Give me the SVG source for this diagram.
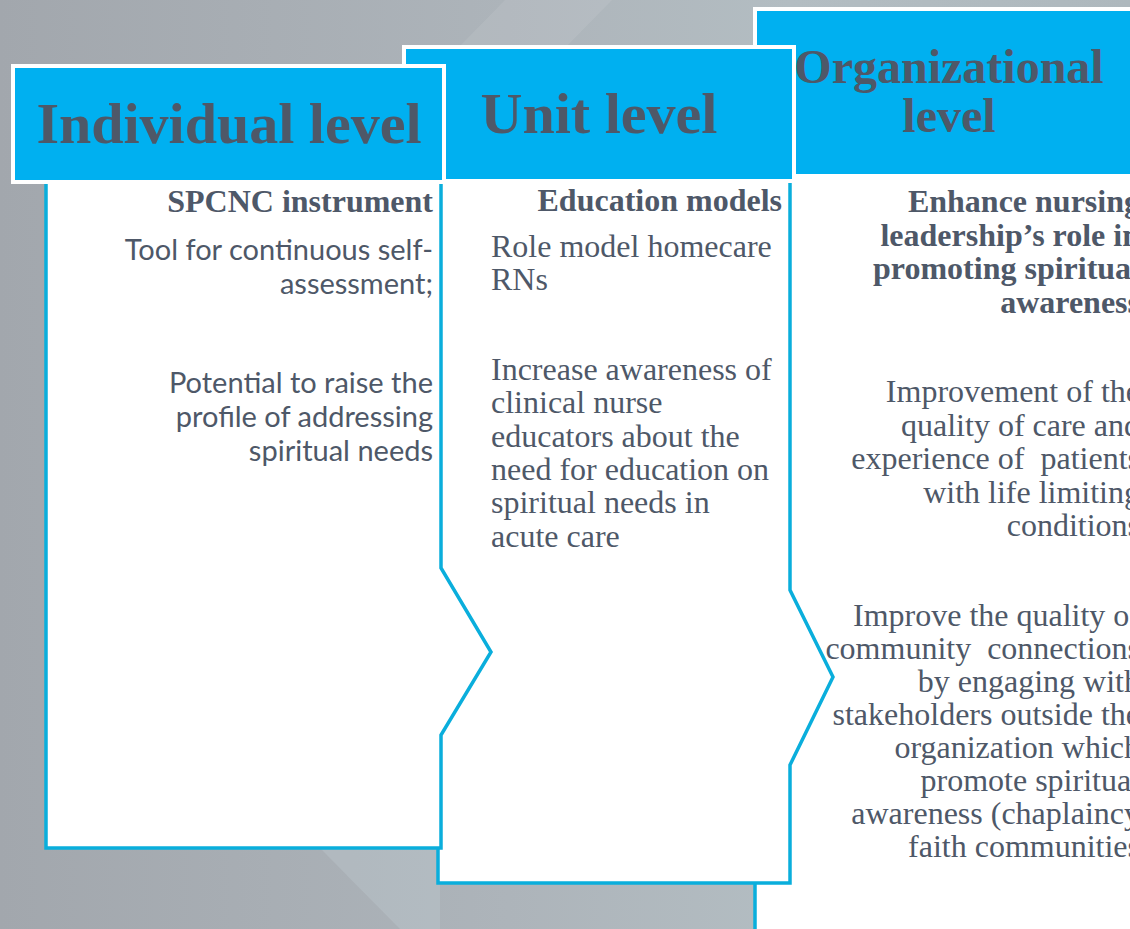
<svg xmlns="http://www.w3.org/2000/svg" width="1130" height="929" viewBox="0 0 1130 929">
<defs>
<linearGradient id="bg" x1="0" y1="0" x2="1" y2="0">
<stop offset="0" stop-color="#a2a7ad"/>
<stop offset="0.45" stop-color="#adb4ba"/>
<stop offset="0.7" stop-color="#b3bdc2"/>
<stop offset="1" stop-color="#aeb8bd"/>
</linearGradient>
<style>
.hdr{fill:#00b0f0;stroke:#ffffff;stroke-width:4}
.bodyfill{fill:#ffffff;stroke:none}
.outline{fill:none;stroke:#0aaedc;stroke-width:3.5;stroke-linejoin:miter}
.ht{font-family:"Liberation Serif","Times New Roman",serif;font-weight:bold;fill:#4e5868}
.sb{font-family:"Liberation Serif","Times New Roman",serif;font-weight:bold;font-size:32px;fill:#4e5868}
.sr{font-family:"Liberation Serif","Times New Roman",serif;font-size:32px;fill:#4e5868;white-space:pre}
.ss{font-family:Lato,"Open Sans",sans-serif;font-size:29px;fill:#4e5868}
</style>
</defs>
<rect x="0" y="0" width="1130" height="929" fill="url(#bg)"/>
<polygon points="505,0 612,0 565,48 458,48" fill="#ffffff" opacity="0.08"/>
<polygon points="320,848 440,848 440,929 400,929" fill="#c0cbd0" opacity="0.35"/>

<g id="panel-organizational">
<path class="bodyfill" d="M755,176 H1150 V940 H755 Z"/>
<path class="outline" d="M755,940 V176 H1150"/>
<rect class="hdr" x="755" y="9" width="386" height="167"/>
<text class="ht" font-size="48" x="949" y="83" text-anchor="middle">Organizational</text>
<text class="ht" font-size="48" x="949" y="132" text-anchor="middle">level</text>
<g text-anchor="end">
<text class="sb" x="1140" y="212">Enhance nursing</text>
<text class="sb" x="1140" y="245.5">leadership’s role in</text>
<text class="sb" x="1140" y="279">promoting spiritual</text>
<text class="sb" x="1140" y="312.5">awareness</text>
<text class="sr" x="1140" y="402">Improvement of the</text>
<text class="sr" x="1140" y="435.5">quality of care and</text>
<text class="sr" x="1140" y="469">experience of  patients</text>
<text class="sr" x="1140" y="502.5">with life limiting</text>
<text class="sr" x="1140" y="536">conditions</text>
<text class="sr" x="1140" y="626">Improve the quality of</text>
<text class="sr" x="1140" y="659">community  connections</text>
<text class="sr" x="1140" y="692">by engaging with</text>
<text class="sr" x="1140" y="725">stakeholders outside the</text>
<text class="sr" x="1140" y="758">organization which</text>
<text class="sr" x="1140" y="791">promote spiritual</text>
<text class="sr" x="1140" y="824">awareness (chaplaincy</text>
<text class="sr" x="1140" y="857">faith communities</text>
</g>
</g>

<g id="panel-unit">
<path class="bodyfill" d="M438,181 H790 V883 H438 Z"/>
<path class="outline" d="M438,181 H790 V590 L833,677 L790,765 V883 H438 Z"/>
<rect class="hdr" x="404" y="47" width="390" height="134"/>
<text class="ht" font-size="58" x="599" y="133" text-anchor="middle">Unit level</text>
<text class="sb" x="782" y="211" text-anchor="end">Education models</text>
<text class="sr" x="491" y="257">Role model homecare</text>
<text class="sr" x="491" y="290">RNs</text>
<text class="sr" x="491" y="380">Increase awareness of</text>
<text class="sr" x="491" y="413">clinical nurse</text>
<text class="sr" x="491" y="447">educators about the</text>
<text class="sr" x="491" y="480">need for education on</text>
<text class="sr" x="491" y="513">spiritual needs in</text>
<text class="sr" x="491" y="547">acute care</text>
</g>

<g id="panel-individual">
<path class="bodyfill" d="M46,182 H441 V568 L491,652 L441,735 V848 H46 Z"/>
<path class="outline" d="M46,182 H441 V568 L491,652 L441,735 V848 H46 Z"/>
<rect class="hdr" x="13" y="66" width="431" height="116"/>
<text class="ht" font-size="58" x="229" y="143" text-anchor="middle">Individual level</text>
<text class="sb" x="433" y="212" text-anchor="end">SPCNC instrument</text>
<g text-anchor="end">
<text class="ss" x="433" y="260">Tool for continuous self-</text>
<text class="ss" x="433" y="294">assessment;</text>
<text class="ss" x="433" y="393">Potential to raise the</text>
<text class="ss" x="433" y="427">profile of addressing</text>
<text class="ss" x="433" y="461">spiritual needs</text>
</g>
</g>
</svg>
